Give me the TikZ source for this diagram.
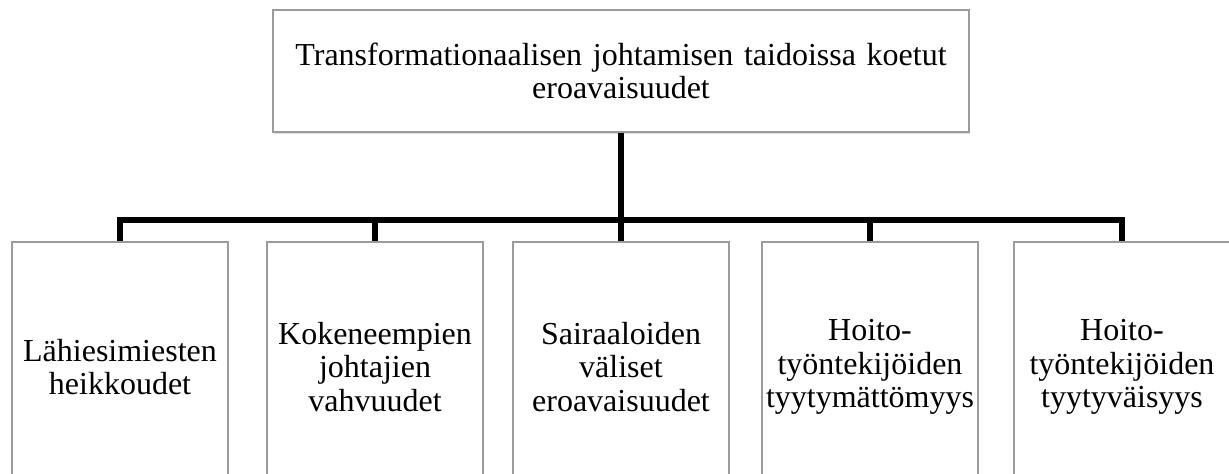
\documentclass[tikz,border=0pt]{standalone}
\usepackage{fontspec}
\setmainfont{Liberation Serif}
\usepackage{tikz}
\usetikzlibrary{shadows}

\begin{document}
\begin{tikzpicture}[x=0.5pt,y=-0.5pt,
    box/.style={draw={rgb,255:red,155;green,155;blue,155},line width=0.8pt,fill=white,
        align=center,inner sep=1pt,font=\fontsize{16}{16.8}\selectfont,
        drop shadow={opacity=0.25,shadow xshift=0.6pt,shadow yshift=-1pt}},
    leaf/.style={box,text width=106pt,minimum height=125pt},
    conn/.style={line width=2.6pt,line join=miter}]
            \clip (0,0) rectangle (1229,474);
            \fill[white] (0,0) rectangle (1229,474);
            \node[box,text width=346pt,minimum height=61pt] (top) at (621,71) {Transformationaalisen johtamisen taidoissa koetut\\eroavaisuudet};
            \node[leaf] (b1) at (120,367) {Lähiesimiesten\\heikkoudet};
            \node[leaf] (b2) at (375,367) {Kokeneempien\\johtajien\\vahvuudet};
            \node[leaf] (b3) at (621,367) {Sairaaloiden\\väliset\\eroavaisuudet};
            \node[leaf] (b4) at (870,367) {Hoito-\\työntekijöiden\\tyytymättömyys};
            \node[leaf] (b5) at (1122,367) {Hoito-\\työntekijöiden\\tyytyväisyys};
            \coordinate (bar) at (621,220);
            \draw[conn] (top.south) -- (top.south |- bar);
            \foreach \b in {b1,b2,b3,b4,b5}
                \draw[conn] (top.south |- bar) -| (\b.north);
        \end{tikzpicture}
\end{document}
